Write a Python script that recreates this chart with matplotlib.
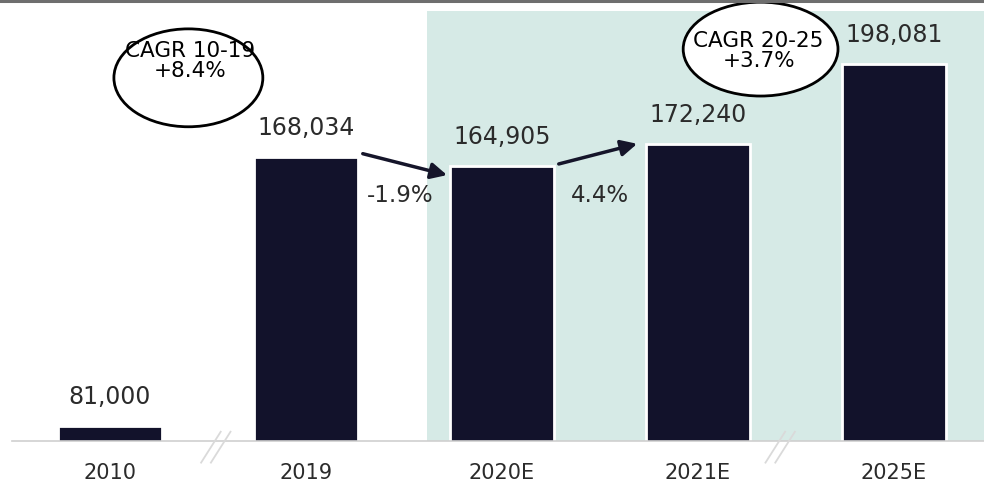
import matplotlib
matplotlib.use('Agg')
import matplotlib.pyplot as plt
from matplotlib.patches import Ellipse, Rectangle

years = ['2010', '2019', '2020E', '2021E', '2025E']
values = [81000, 168034, 164905, 172240, 198081]

navy = '#12122b'
shade = '#d6eae6'
text_col = '#2b2b2b'

fig = plt.figure(figsize=(9.84, 4.85), dpi=100)
ax = fig.add_axes([12 / 984, 43 / 485, 972 / 984, 439 / 485])

x = list(range(len(years)))
ax.set_xlim(-0.5, 4.46)
ax.set_ylim(76000, 218150)

# forecast period background
ax.add_patch(Rectangle((1.62, 76000), 3.0, 215200 - 76000,
                       facecolor=shade, edgecolor='none', zorder=0))

bars = ax.bar(x, values, width=0.53, color=navy, edgecolor='white',
              linewidth=2, zorder=2)

for xi, v in zip(x, values):
    ax.annotate(f'{v:,}', (xi, v), xytext=(0, 13), textcoords='offset points',
                ha='center', va='bottom', fontsize=17, color=text_col)

###Year-on-year arrows
def yoy(a, b):
    return (b / a - 1) * 100

ax.annotate('', xy=(1.72, values[2] - 2800), xytext=(1.29, values[1] + 1000),
            arrowprops=dict(arrowstyle='-|>', color='#15152a', lw=2.5,
                            mutation_scale=24, shrinkA=0, shrinkB=0), zorder=4)
ax.annotate('', xy=(2.69, values[3]), xytext=(2.29, values[2] + 800),
            arrowprops=dict(arrowstyle='-|>', color='#15152a', lw=2.5,
                            mutation_scale=24, shrinkA=0, shrinkB=0), zorder=4)
ax.text(1.48, 155700, f'{yoy(values[1], values[2]):.1f}%', ha='center',
        va='center', fontsize=16.5, color=text_col, zorder=4)
ax.text(2.5, 155700, f'{yoy(values[2], values[3]):.1f}%', ha='center',
        va='center', fontsize=16.5, color=text_col, zorder=4)

###CAGR bubbles
cagr1 = ((values[1] / values[0]) ** (1 / 9) - 1) * 100
cagr2 = ((values[4] / values[2]) ** (1 / 5) - 1) * 100
ax.add_patch(Ellipse((0.40, 193600), 0.76, 31700, facecolor='white',
                     edgecolor='black', lw=2, zorder=5))
ax.text(0.41, 199400, f'CAGR 10-19\n+{cagr1:.1f}%', ha='center', va='center',
        fontsize=15.5, color='black', linespacing=1.0, zorder=6)
ax.add_patch(Ellipse((3.32, 202900), 0.79, 30400, facecolor='white',
                     edgecolor='black', lw=2, zorder=5, clip_on=False))
ax.text(3.31, 202600, f'CAGR 20-25\n+{cagr2:.1f}%', ha='center', va='center',
        fontsize=15.5, color='black', linespacing=1.0, zorder=6)

###Axis styling
for s in ['top', 'right', 'left']:
    ax.spines[s].set_visible(False)
ax.spines['bottom'].set_color('#cfcfcf')
ax.spines['bottom'].set_linewidth(1.2)
ax.set_yticks([])
ax.set_xticks(x)
ax.set_xticklabels(years, fontsize=15, color=text_col)
ax.tick_params(axis='x', length=0, pad=15)

# axis break marks
for bx in [0.54, 3.42]:
    for dx in [-0.025, 0.025]:
        ax.plot([bx + dx - 0.05, bx + dx + 0.05], [69000, 79000],
                color='#dadada', lw=1.3, clip_on=False, zorder=3)

# top rule
fig.add_artist(plt.Line2D([0, 1], [1 - 1.5 / 485, 1 - 1.5 / 485],
                          color='#6e6e6e', lw=2.2, transform=fig.transFigure))

fig.savefig('out.png', dpi=100)
